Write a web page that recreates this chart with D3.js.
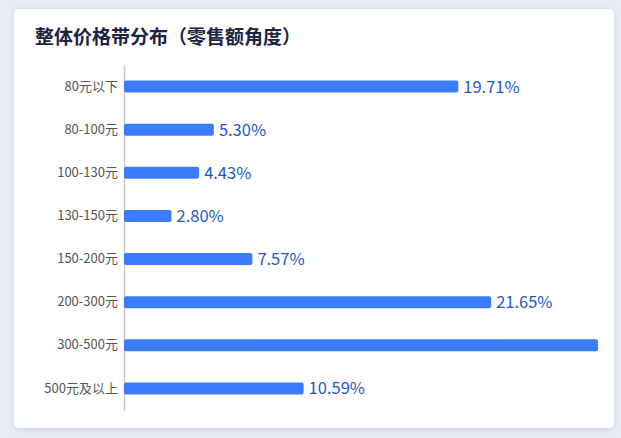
<!DOCTYPE html>
<html>
<head>
<meta charset="utf-8">
<script src="https://cdn.jsdelivr.net/npm/d3@7/dist/d3.min.js"></script>
<style>
  html, body { margin: 0; padding: 0; background: #e9ecf4; }
  #chart { position: relative; width: 621px; height: 438px; }
  text { font-family: "Noto Sans CJK SC", "Noto Sans", sans-serif; }
</style>
</head>
<body>
<div id="chart"></div>
<script>
const categories = ["80元以下", "80-100元", "100-130元", "130-150元", "150-200元", "200-300元", "300-500元", "500元及以上"];
const shares = [19.71, 5.30, 4.43, 2.80, 7.57, 21.65, 27.95, 10.59];

const W = 621, H = 438;
const margin = {top: 65, right: 23, bottom: 28, left: 124},
  width = W - margin.left - margin.right,
  height = H - margin.top - margin.bottom;

const svg = d3.select("#chart")
  .append("svg")
    .attr("width", W)
    .attr("height", H);

// card with soft shadow
const defs = svg.append("defs");
const f = defs.append("filter").attr("id", "shadow")
  .attr("x", "-5%").attr("y", "-5%").attr("width", "110%").attr("height", "110%");
f.append("feDropShadow")
  .attr("dx", 0).attr("dy", 1).attr("stdDeviation", 3)
  .attr("flood-color", "#9aa3bd").attr("flood-opacity", 0.35);

svg.append("rect")
  .attr("x", 14).attr("y", 9)
  .attr("width", 600).attr("height", 419)
  .attr("rx", 5)
  .attr("fill", "#fff")
  .attr("filter", "url(#shadow)");

svg.append("text")
  .attr("x", 35).attr("y", 44)
  .attr("font-size", 19)
  .attr("font-weight", 700)
  .attr("fill", "#1b2440")
  .text("整体价格带分布（零售额角度）");

const g = svg.append("g")
  .attr("transform", "translate(" + margin.left + "," + margin.top + ")");

const x = d3.scaleLinear().domain([0, d3.max(shares)]).range([0, width]);
const y = d3.scaleBand().domain(categories).range([0, height]).paddingInner(0.72).paddingOuter(0.36);

// y axis
const yAxis = g.append("g")
  .call(d3.axisLeft(y).tickSize(0).tickPadding(6));
yAxis.select(".domain").attr("stroke", "#c8c8c8").attr("stroke-width", 1.5);
yAxis.selectAll("text")
  .attr("font-size", 13)
  .attr("fill", "#555")
  .style("font-family", '"Noto Sans CJK SC", sans-serif');

g.selectAll("rect.bar")
  .data(shares)
  .enter()
  .append("rect")
    .attr("class", "bar")
    .attr("x", 0)
    .attr("y", (d, i) => y(categories[i]))
    .attr("width", d => x(d))
    .attr("height", y.bandwidth())
    .attr("rx", 2)
    .attr("fill", "#3b7cff");

// value labels; the one that would run past the card is not shown
g.selectAll("text.val")
  .data(shares.map((d, i) => ({v: d, c: categories[i]})).filter(d => x(d.v) + 60 < width))
  .enter()
  .append("text")
    .attr("class", "val")
    .attr("x", d => x(d.v) + 5)
    .attr("y", d => y(d.c) + y.bandwidth() / 2)
    .attr("dy", "0.36em")
    .attr("font-size", 16.5)
    .attr("fill", "#1f57c9")
    .text(d => d.v.toFixed(2) + "%");
</script>
</body>
</html>
